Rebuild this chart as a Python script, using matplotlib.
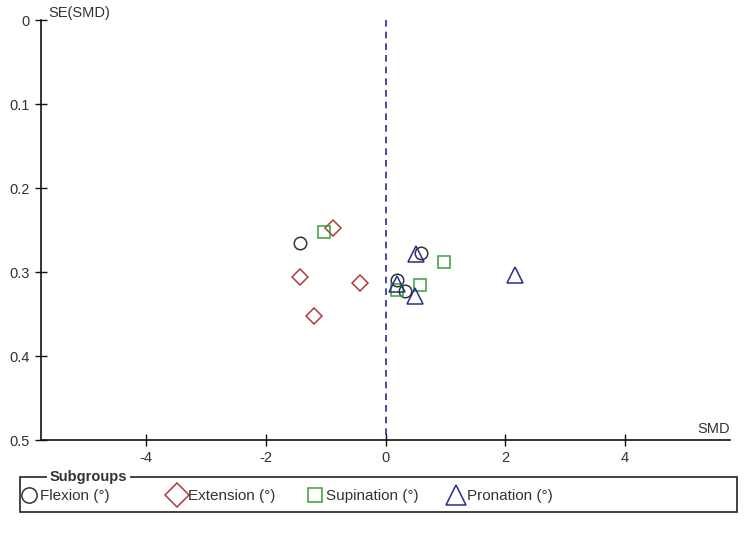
import matplotlib.pyplot as plt
from matplotlib.patches import Rectangle
from matplotlib.lines import Line2D

plt.rcParams['font.family'] = ['Liberation Sans', 'DejaVu Sans']

# SMD and SE(SMD) per subgroup
flexion_smd = [-1.43, 0.59, 0.19, 0.32]
flexion_se = [0.265, 0.277, 0.310, 0.323]
extension_smd = [-0.88, -1.42, -0.42, -1.19]
extension_se = [0.248, 0.306, 0.313, 0.352]
supination_smd = [-1.03, 0.97, 0.58, 0.19]
supination_se = [0.252, 0.288, 0.316, 0.322]
pronation_smd = [0.51, 2.16, 0.20, 0.50]
pronation_se = [0.279, 0.304, 0.314, 0.329]

labels = ["Flexion (°)", "Extension (°)", "Supination (°)", "Pronation (°)"]
x_ticks = [-4, -2, 0, 2, 4]
y_ticks = [0, 0.1, 0.2, 0.3, 0.4, 0.5]

txt = "#333333"
fig = plt.figure(figsize=(7.5, 5.35), dpi=100)
ax = fig.add_axes([41 / 750, 1 - 440 / 535, 689 / 750, 420 / 535])

ax.plot([0, 0], [0, 0.5], color="#2b2b8a", lw=1.2, ls=(0, (4, 3)))

ax.plot(flexion_smd, flexion_se, "o", ms=9, mfc="none", mec="#333333", mew=1.1)
ax.plot(extension_smd, extension_se, "D", ms=8.5, mfc="none", mec="#b23a3a", mew=1.1)
ax.plot(supination_smd, supination_se, "s", ms=8.5, mfc="none", mec="#3a9e3a", mew=1.1)
ax.plot(pronation_smd, pronation_se, "^", ms=11, mfc="none", mec="#2b2b8f", mew=1.1)

ax.set_xlim(-5.75, 5.75)
ax.set_ylim(0.5, 0)
ax.set_xticks(x_ticks)
ax.set_xticklabels([str(t) for t in x_ticks])
ax.set_yticks(y_ticks)
ax.set_yticklabels(["0", "0.1", "0.2", "0.3", "0.4", "0.5"])
ax.tick_params(direction="inout", length=9, width=1, labelsize=10.5, colors="#111111",
               labelcolor=txt)
ax.spines["top"].set_visible(False)
ax.spines["right"].set_visible(False)
for s in ["left", "bottom"]:
    ax.spines[s].set_linewidth(1.2)
    ax.spines[s].set_color("#111111")

ax.text(0.01, 1.0, "SE(SMD)", transform=ax.transAxes, fontsize=10.5, va="bottom", ha="left", color=txt)
ax.text(1.0, 0.01, "SMD", transform=ax.transAxes, fontsize=10.5, va="bottom", ha="right", color=txt)

# legend box
fig.patches.append(Rectangle((20 / 750, 1 - 512 / 535), 717 / 750, 35 / 535,
                             transform=fig.transFigure, fill=False, ec="#222222", lw=1.2))
fig.text(50 / 750, 1 - 477 / 535, "Subgroups", fontsize=10.5, fontweight="bold",
         va="center", ha="left", color=txt,
         bbox=dict(fc="white", ec="none", pad=2))

handles = [
    Line2D([], [], ls="none", marker="o", ms=11, mfc="none", mec="#333333", mew=1.1),
    Line2D([], [], ls="none", marker="D", ms=12, mfc="none", mec="#b23a3a", mew=1.1),
    Line2D([], [], ls="none", marker="s", ms=10.5, mfc="none", mec="#3a9e3a", mew=1.1),
    Line2D([], [], ls="none", marker="^", ms=15, mfc="none", mec="#2b2b8f", mew=1.1),
]
legend_x = [22, 170, 308, 449]
for h, lab, lx in zip(handles, labels, legend_x):
    fig.legend([h], [lab], loc="center left", bbox_to_anchor=(lx / 750, 1 - 496 / 535),
               frameon=False, fontsize=11, handlelength=0.9, handletextpad=0.3,
               borderaxespad=0, borderpad=0, labelcolor=txt)

fig.savefig("out.png", dpi=100)
